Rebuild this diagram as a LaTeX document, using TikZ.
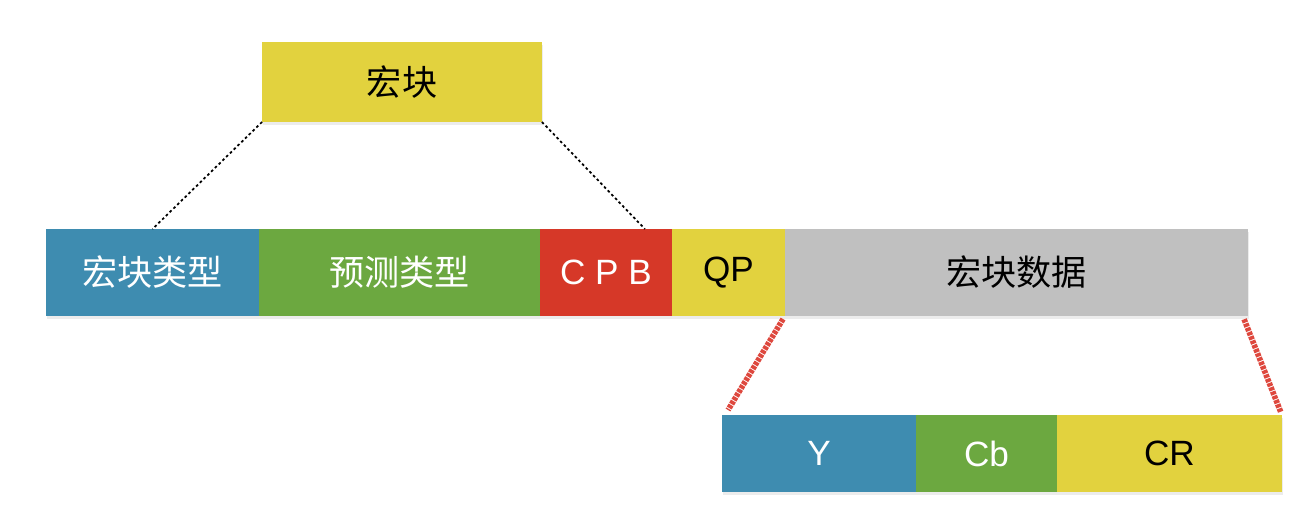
\documentclass[tikz,border=0pt]{standalone}
\usepackage{fontspec}
\setmainfont{Liberation Sans}
\newfontfamily\cjk{Noto Sans CJK SC}
\usetikzlibrary{positioning,shadows}
\definecolor{mbblue}{RGB}{62,140,176}
\definecolor{mbgreen}{RGB}{108,168,64}
\definecolor{mbred}{RGB}{214,56,40}
\definecolor{mbyellow}{RGB}{226,210,62}
\definecolor{mbgray}{RGB}{192,192,192}
\definecolor{mblink}{RGB}{222,72,62}
\begin{document}
\begin{tikzpicture}[x=0.02cm,y=-0.02cm,
    field/.style={rectangle,inner sep=0pt,outer sep=0pt,font=\fontsize{20}{24}\selectfont,
      drop shadow={opacity=0.15,shadow xshift=0.6pt,shadow yshift=-1.6pt}},
    row/.style={field,minimum height=1.74cm},
    sub/.style={field,minimum height=1.54cm},
    zoomline/.style={line width=1pt,dash pattern=on 1.5pt off 1.5pt},
    redline/.style={mblink,line width=3.2pt,dash pattern=on 2pt off 0.6pt}]
  \useasboundingbox (0,0) rectangle (1314,514);
  % top block
  \node[field,fill=mbyellow,minimum width=5.6cm,minimum height=1.6cm] (mb) at (402,82) {\cjk 宏块};
  % header row
  \node[row,fill=mbblue,text=white,minimum width=4.26cm] (type) at (152.5,272.5) {\cjk 宏块类型};
  \node[row,fill=mbgreen,text=white,minimum width=5.62cm,right=0pt of type] (pred) {\cjk 预测类型};
  \node[row,fill=mbred,text=white,minimum width=2.64cm,right=0pt of pred] (cpb) {C P B};
  \node[row,fill=mbyellow,minimum width=2.26cm,right=0pt of cpb] (qp) {QP};
  \node[row,fill=mbgray,minimum width=9.26cm,right=0pt of qp] (data) {\cjk 宏块数据};
  % data fields
  \node[sub,fill=mbblue,text=white,minimum width=3.88cm] (y) at (819,453.5) {Y};
  \node[sub,fill=mbgreen,text=white,minimum width=2.82cm,right=0pt of y] (cb) {Cb};
  \node[sub,fill=mbyellow,minimum width=4.5cm,right=0pt of cb] (cr) {CR};
  \coordinate (cpbtop) at ([xshift=-0.54cm]cpb.north east);
  \coordinate (ytop) at ([xshift=0.12cm,yshift=0.1cm]y.north west);
  \begin{scope}
    \draw[zoomline] (mb.south west) -- (type.north);
    \draw[zoomline] (mb.south east) -- (cpbtop);
    \draw[redline,shorten <=2pt] (data.south west) -- (ytop);
    \draw[redline,shorten <=2pt,shorten >=2pt] ([xshift=-0.1cm]data.south east) -- (cr.north east);
  \end{scope}
\end{tikzpicture}
\end{document}
